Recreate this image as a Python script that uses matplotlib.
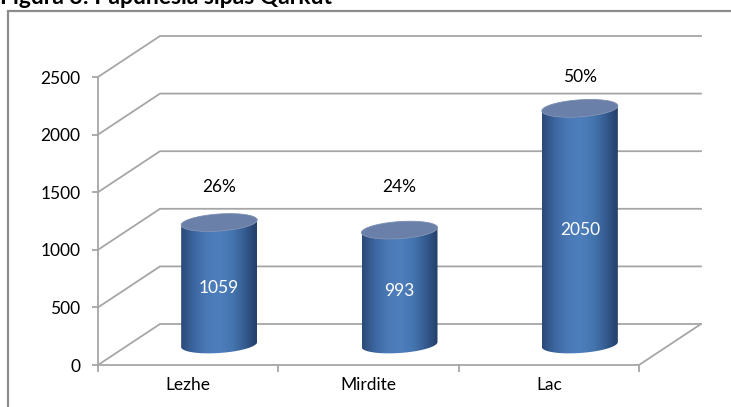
import numpy as np
import matplotlib
matplotlib.use("Agg")
import matplotlib.pyplot as plt
from matplotlib.patches import Polygon, Rectangle
from matplotlib.lines import Line2D
from matplotlib.colors import LinearSegmentedColormap

# ---- data ----
categories = ["Lezhe", "Mirdite", "Lac"]
values = [1059, 993, 2050]
y_ticks = [0, 500, 1000, 1500, 2000, 2500]
title = "Figura 3: Papunesia sipas Qarkut"

# ---- layout (pixels) ----
W, H = 731, 407
DPI = 100
AX_L, AX_R, AX_B, AX_T = 98, 639, 365, 77   # front plane: x range, y of 0 and 2500
DEPTH = (62, 41)                               # back-wall offset in px
CYL_HALF_W = 38                                # px
CYL_HALF_H = 8.5                               # px (ellipse)
CYL_TILT = 2.5                                 # px (right end higher)
pct_label_y = [1545, 1545, 2500]               # data units (front plane)
FS = 12.5

plt.rcParams['font.family'] = ['Lato', 'DejaVu Sans']

fig = plt.figure(figsize=(W / DPI, H / DPI), dpi=DPI)
fig.patch.set_facecolor("white")
ax = fig.add_axes([AX_L / W, (H - AX_B) / H, (AX_R - AX_L) / W, (AX_B - AX_T) / H])
ax.set_xlim(-0.5, len(categories) - 0.5)
ax.set_ylim(0, 2500)
ax.patch.set_visible(False)

px_per_cat = (AX_R - AX_L) / len(categories)
px_per_val = (AX_B - AX_T) / 2500.0
DX = DEPTH[0] / px_per_cat
DY = DEPTH[1] / px_per_val

grid_col = "#a6a6a6"
lw_grid = 1.3

# back wall gridlines + diagonals
x0, x1 = -0.5, len(categories) - 0.5
for v in y_ticks:
    ax.add_line(Line2D([x0, x0 + DX, x1 + DX], [v, v + DY, v + DY],
                       color=grid_col, lw=lw_grid, clip_on=False, zorder=1))
# floor right edge
ax.add_line(Line2D([x1, x1 + DX], [0, DY], color=grid_col, lw=lw_grid,
                   clip_on=False, zorder=1))

# spines as front axis lines
for s in ["top", "right"]:
    ax.spines[s].set_visible(False)
for s in ["left", "bottom"]:
    ax.spines[s].set_color(grid_col)
    ax.spines[s].set_linewidth(lw_grid)

ax.set_yticks(y_ticks)
ax.set_yticklabels([str(v) for v in y_ticks])
ax.tick_params(axis="y", which="major", length=4.5, width=lw_grid, color=grid_col,
               pad=8, labelsize=FS, labelcolor="black")
ax.set_xticks([i - 0.5 for i in range(len(categories) + 1)])
ax.set_xticklabels([])
ax.set_xticks(range(len(categories)), minor=True)
ax.set_xticklabels(categories, minor=True)
ax.tick_params(axis="x", which="major", length=5, width=lw_grid, color=grid_col)
ax.tick_params(axis="x", which="minor", length=0, pad=9, labelsize=FS,
               labelcolor="black")

# ---- cylinders ----
cmap = LinearSegmentedColormap.from_list(
    "cyl", ["#2b4a78", "#3c66a0", "#4a79b6", "#4e7fbd", "#4676b1", "#365d93", "#243f69"])
grad = np.linspace(0, 1, 200).reshape(1, -1)

a = CYL_HALF_W / px_per_cat
b = CYL_HALF_H / px_per_val
k = CYL_TILT / px_per_val
base = DY / 2.0
t_low = np.linspace(np.pi, 2 * np.pi, 60)
t_all = np.linspace(0, 2 * np.pi, 120)
total = float(sum(values))

for i, v in enumerate(values):
    cx = i + DX / 2.0
    top = base + v
    bx = cx + a * np.cos(t_low)
    by = base + b * np.sin(t_low) + k * np.cos(t_low)
    tx = cx + a * np.cos(t_low[::-1])
    ty = top + b * np.sin(t_low[::-1]) + k * np.cos(t_low[::-1])
    body_xy = np.column_stack([np.concatenate([bx, tx]), np.concatenate([by, ty])])
    body = Polygon(body_xy, closed=True, facecolor="none", edgecolor="none", zorder=3)
    ax.add_patch(body)
    im = ax.imshow(grad, cmap=cmap, aspect="auto", interpolation="bicubic",
                   extent=(cx - a, cx + a, base - b - k, top + b + k), zorder=3)
    im.set_clip_path(body)
    ex = cx + a * np.cos(t_all)
    ey = top + b * np.sin(t_all) + k * np.cos(t_all)
    ax.add_patch(Polygon(np.column_stack([ex, ey]), closed=True,
                         facecolor="#6a80a8", edgecolor="#7a8db0", lw=0.6, zorder=4))
    ax.text(cx, base + v / 2.0 - 35, str(v), color="white", ha="center",
            va="center", fontsize=FS, zorder=5)
    ax.text(cx, pct_label_y[i], f"{round(100 * v / total):d}%", color="black",
            ha="center", va="center", fontsize=FS, zorder=5, clip_on=False)

ax.set_xlim(-0.5, len(categories) - 0.5)
ax.set_ylim(0, 2500)

# ---- outer frame and title ----
fig.add_artist(Rectangle((8 / W, -0.1), 1.2, 1.1 - 11 / H, transform=fig.transFigure,
                         fill=False, edgecolor="#8c8c8c", lw=1.6, clip_on=False))
fig.text(0.0, 1 - 4 / H, title, fontsize=16.5, fontweight="bold", ha="left",
         va="baseline", color="black")

fig.savefig("out.png", dpi=DPI)
